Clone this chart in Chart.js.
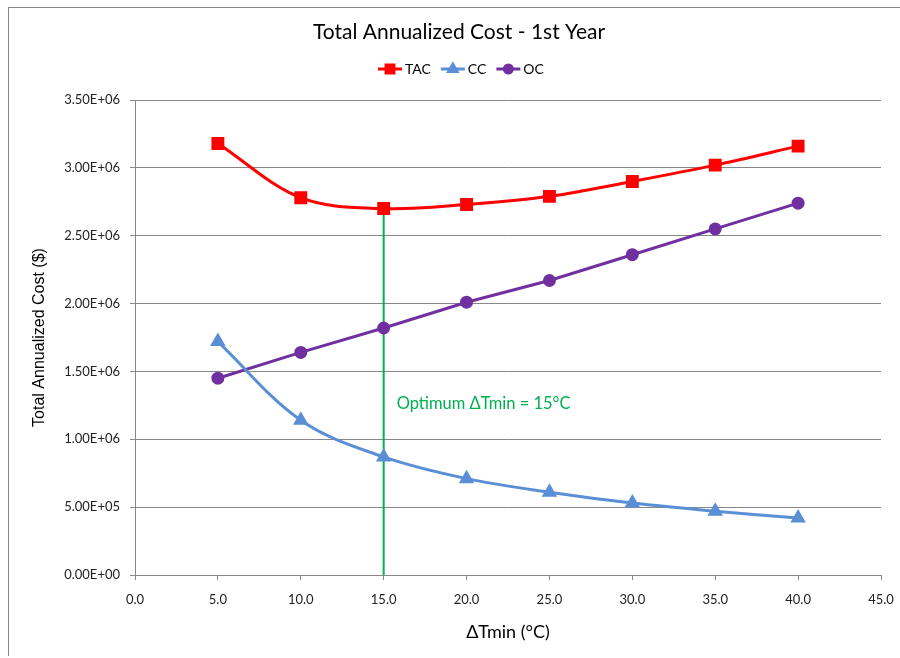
<!DOCTYPE html>
<html lang="en">
<head>
    <meta charset="UTF-8">
    <title>Total Annualized Cost - 1st Year</title>
    <script src="https://cdn.jsdelivr.net/npm/chart.js"></script>
    <style>
        body {
            margin: 0;
            padding: 0;
            background-color: #ffffff;
        }

        .container {
            position: relative;
            width: 900px;
            height: 658px;
        }

        .frame {
            position: absolute;
            left: 8px;
            top: 7px;
            right: -2px;
            bottom: 2px;
            border-left: 1px solid #888888;
            border-top: 1px solid #888888;
            pointer-events: none;
        }
    </style>
</head>
<body>
    <div class="container">
        <canvas id="costChart" width="900" height="658"></canvas>
        <div class="frame"></div>
    </div>

    <script>
        // ΔTmin values (°C)
        var dTmin = [5, 10, 15, 20, 25, 30, 35, 40];
        // costs in $
        var tac = [3.18e6, 2.78e6, 2.70e6, 2.73e6, 2.79e6, 2.90e6, 3.02e6, 3.16e6];
        var cc = [1.72e6, 1.14e6, 0.87e6, 0.71e6, 0.61e6, 0.53e6, 0.47e6, 0.42e6];
        var oc = [1.45e6, 1.64e6, 1.82e6, 2.01e6, 2.17e6, 2.36e6, 2.55e6, 2.74e6];

        var optimumX = 15;
        var optimumY = 2.70e6;
        var optimumLabel = 'Optimum ΔTmin = 15°C';

        var titleText = 'Total Annualized Cost - 1st Year';
        var seriesNames = ['TAC', 'CC', 'OC'];

        function toPoints(values) {
            return dTmin.map(function (x, i) { return { x: x, y: values[i] }; });
        }

        // Excel-style scientific labels, e.g. 3.50E+06
        function sciLabel(v) {
            if (v === 0) return '0.00E+00';
            var exp = Math.floor(Math.log10(Math.abs(v)) + 1e-9);
            var mant = v / Math.pow(10, exp);
            var e = Math.abs(exp) < 10 ? '0' + Math.abs(exp) : '' + Math.abs(exp);
            return mant.toFixed(2) + 'E' + (exp < 0 ? '-' : '+') + e;
        }

        // title, legend and the optimum note, drawn on the canvas
        var extrasPlugin = {
            id: 'extras',
            afterDraw: function (chart) {
                var ctx = chart.ctx;
                var xs = chart.scales.x, ys = chart.scales.y;
                ctx.save();

                ctx.fillStyle = '#000000';
                ctx.font = '21px Lato';
                ctx.textAlign = 'center';
                ctx.textBaseline = 'middle';
                ctx.fillText(titleText, 459, 32);

                // legend
                ctx.font = '14px Lato';
                ctx.textAlign = 'left';
                var lx = 378, ly = 69;
                chart.data.datasets.slice(0, 3).forEach(function (ds) {
                    ctx.strokeStyle = ds.borderColor;
                    ctx.lineWidth = 3;
                    ctx.beginPath();
                    ctx.moveTo(lx, ly);
                    ctx.lineTo(lx + 24, ly);
                    ctx.stroke();
                    Chart.helpers.drawPoint(ctx, {
                        pointStyle: ds.pointStyle,
                        radius: ds.pointRadius * 0.8,
                        borderWidth: 1
                    }, lx + 12, ly);
                    ctx.fillStyle = ds.pointBackgroundColor;
                    ctx.fill();
                    ctx.fillStyle = '#000000';
                    ctx.fillText(ds.label, lx + 27, ly);
                    lx += 27 + ctx.measureText(ds.label).width + 10;
                });

                ctx.fillStyle = '#00B050';
                ctx.font = '16.5px Lato';
                ctx.fillText(optimumLabel, xs.getPixelForValue(optimumX) + 13, ys.getPixelForValue(1.26e6));
                ctx.restore();
            }
        };

        var ctx = document.getElementById('costChart').getContext('2d');
        var costChart = new Chart(ctx, {
            type: 'line',
            data: {
                datasets: [{
                    label: seriesNames[0],
                    data: toPoints(tac),
                    borderColor: '#FF0000',
                    backgroundColor: '#FF0000',
                    pointBackgroundColor: '#FF0000',
                    pointBorderColor: '#FF0000',
                    pointStyle: 'rect',
                    pointRadius: 7,
                    borderWidth: 3,
                    tension: 0.35,
                    order: 1
                }, {
                    label: seriesNames[1],
                    data: toPoints(cc),
                    borderColor: '#5A8FD6',
                    backgroundColor: '#5A8FD6',
                    pointBackgroundColor: '#5A8FD6',
                    pointBorderColor: '#5A8FD6',
                    pointStyle: 'triangle',
                    pointRadius: 6,
                    borderWidth: 3,
                    tension: 0.35,
                    order: 1
                }, {
                    label: seriesNames[2],
                    data: toPoints(oc),
                    borderColor: '#7030A0',
                    backgroundColor: '#7030A0',
                    pointBackgroundColor: '#7030A0',
                    pointBorderColor: '#7030A0',
                    pointStyle: 'circle',
                    pointRadius: 5,
                    borderWidth: 3,
                    tension: 0,
                    order: 1
                }, {
                    label: 'optimum',
                    data: [{ x: optimumX, y: 0 }, { x: optimumX, y: optimumY }],
                    borderColor: '#00B050',
                    borderWidth: 2,
                    pointRadius: 0,
                    order: 2
                }]
            },
            options: {
                responsive: false,
                animation: false,
                layout: {
                    padding: { top: 100, right: 19, bottom: 0, left: 0 }
                },
                plugins: {
                    legend: { display: false },
                    title: { display: false },
                    tooltip: { enabled: false }
                },
                scales: {
                    x: {
                        type: 'linear',
                        min: 0,
                        max: 45,
                        afterFit: function (scale) {
                            scale.height = 83;
                            scale.paddingLeft = 0;
                            scale.paddingRight = 0;
                        },
                        ticks: {
                            stepSize: 5,
                            padding: 12,
                            color: '#222222',
                            font: { family: 'Lato', size: 13 },
                            callback: function (value) { return value.toFixed(1); }
                        },
                        grid: {
                            drawOnChartArea: false,
                            tickLength: 5,
                            color: '#878787'
                        },
                        border: { color: '#878787', width: 1 },
                        title: {
                            display: true,
                            text: 'ΔTmin (°C)',
                            color: '#000000',
                            font: { family: 'Lato', size: 18 },
                            padding: { top: 0, bottom: 15 }
                        }
                    },
                    y: {
                        min: 0,
                        max: 3.5e6,
                        afterFit: function (scale) { scale.width = 135; },
                        ticks: {
                            stepSize: 5e5,
                            padding: 10,
                            color: '#222222',
                            font: { family: 'Lato', size: 13 },
                            callback: function (value) { return sciLabel(value); }
                        },
                        grid: {
                            tickLength: 5,
                            color: '#878787'
                        },
                        border: { color: '#878787', width: 1 },
                        title: {
                            display: true,
                            text: 'Total Annualized Cost ($)',
                            color: '#000000',
                            font: { family: 'Liberation Sans', size: 16 },
                            padding: { top: 30, bottom: 0 }
                        }
                    }
                }
            },
            plugins: [extrasPlugin]
        });
    </script>
</body>
</html>
